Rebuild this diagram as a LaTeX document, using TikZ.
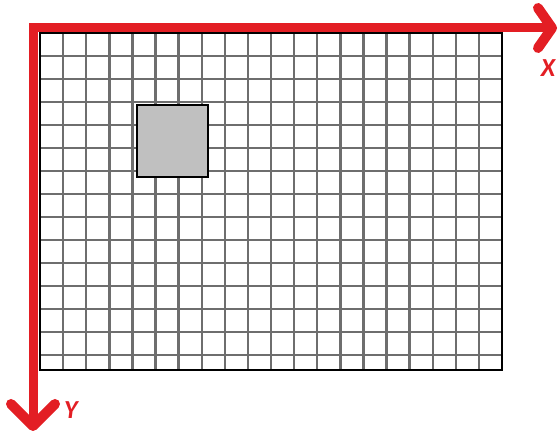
\documentclass[tikz,border=0pt]{standalone}
\usepackage{fontspec}
\setmainfont{Carlito}
\usetikzlibrary{arrows.meta}
\definecolor{axisred}{HTML}{E31E24}
\definecolor{gridgray}{HTML}{6E6E6E}
\definecolor{cellgray}{HTML}{C0C0C0}

\tikzset{
  gridline/.style={draw=gridgray, line width=2.4pt},
  frameline/.style={draw=black, line width=2.4pt},
  axisline/.style={draw=axisred, line width=9pt,
    {Straight Barb[length=22pt,width=44pt,line width=10pt,round]}-{Straight Barb[length=14pt,width=40pt,line width=10pt,round]}},
  axislabel/.style={text=axisred, font=\fontsize{26}{26}\selectfont\bfseries\itshape}
}

\begin{document}
\begin{tikzpicture}[x=1pt,y=-1pt]
\useasboundingbox (0,0) rectangle (560,435);

% grid of pixels
\foreach \i in {1,...,19}
  \draw[gridline] ({40+\i*23.1},33) -- ({40+\i*23.1},370);
\foreach \j in {1,...,14}
  \draw[gridline] (40,{33+\j*23}) -- (502,{33+\j*23});
\draw[frameline] (40,33) rectangle (502,370);

% one pixel block
\node[rectangle, draw=black, line width=2pt, fill=cellgray,
      minimum width=71pt, minimum height=72pt, inner sep=0pt] (cell) at (172.5,141.5) {};

% axes
\coordinate (corner) at (33,28);
\coordinate (xend) at (557,28);
\coordinate (yend) at (33,431);
\draw[axisline] (yend) -- (corner) -- (xend);

\node[axislabel] (xlab) at (548,68) {X};
\node[axislabel] (ylab) at (71,410) {Y};
\end{tikzpicture}
\end{document}
